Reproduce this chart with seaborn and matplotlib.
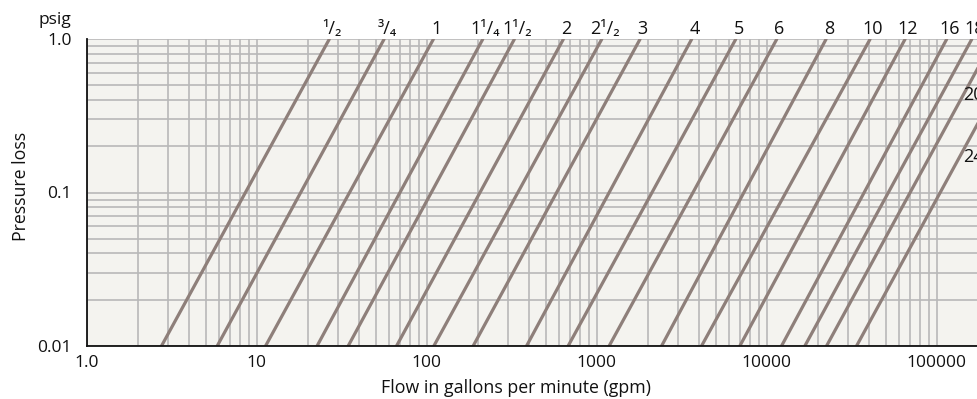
import numpy as np
import pandas as pd
import matplotlib
matplotlib.use("Agg")
import matplotlib.pyplot as plt
import seaborn as sns
from matplotlib.ticker import FixedLocator, NullFormatter, LogLocator

# Pipe sizes (inches) and flow (gpm) where each line crosses 0.01 psig and 1.0 psig
sizes = ["¹/₂", "³/₄", "1", "1¹/₄", "1¹/₂", "2", "2¹/₂", "3", "4", "5", "6",
         "8", "10", "12", "16", "18", "20", "24"]
flow_at_low = [2.76, 5.87, 11.3, 22.7, 34.6, 66.6, 110.4, 188, 387.5, 680.6, 1186,
               2413, 4146, 6965, 12250, 16800, 22540, 33840]
flow_at_high = [26.7, 56.1, 109.4, 213.5, 327.6, 636, 1070, 1797, 3616, 6571, 11450,
                22330, 40520, 65100, 114400, 160700, 216000, 325000]
p_low, p_high = 0.01, 1.0

x_ticks = [1, 10, 100, 1000, 10000, 100000]
x_ticklabels = ["1.0", "10", "100", "1000", "10000", "100000"]
y_ticks = [0.01, 0.1, 1.0]
y_ticklabels = ["0.01", "0.1", "1.0"]

# sizes labelled on right side (lines that leave through the right edge)
right_labels = ["20", "24"]
right_label_p = [0.433, 0.171]
right_label_x = 1.44e5

rows = []
for s, lo, hi in zip(sizes, flow_at_low, flow_at_high):
    rows.append({"size": s, "flow": lo, "pressure": p_low})
    rows.append({"size": s, "flow": hi, "pressure": p_high})
df = pd.DataFrame(rows)

sns.set_theme(style="white")
plt.rcParams["font.family"] = ["Open Sans", "DejaVu Sans"]

W, H = 977, 399
fig = plt.figure(figsize=(W / 100, H / 100), dpi=100)
left = 86.7 / W
bottom = (H - 345.7) / H
top = (H - 39.3) / H
ax = fig.add_axes([left, bottom, 1.0 - left, top - bottom])
ax.set_facecolor("#f4f3ef")
fig.patch.set_facecolor("white")

ax.set_xscale("log")
ax.set_yscale("log")
ax.set_xlim(1, 10 ** ((W - 86.7) / 170))
ax.set_ylim(0.01, 1.0)

ax.xaxis.set_major_locator(FixedLocator(x_ticks))
ax.xaxis.set_minor_locator(LogLocator(base=10, subs=np.arange(2, 10), numticks=20))
ax.yaxis.set_major_locator(FixedLocator(y_ticks))
ax.yaxis.set_minor_locator(LogLocator(base=10, subs=np.arange(2, 10), numticks=20))
ax.xaxis.set_minor_formatter(NullFormatter())
ax.yaxis.set_minor_formatter(NullFormatter())
ax.set_xticklabels(x_ticklabels)
ax.set_yticklabels(y_ticklabels)

ax.grid(True, which="both", color="#b8b8b8", linewidth=1.2)
ax.set_axisbelow(True)

sns.lineplot(data=df, x="flow", y="pressure", units="size", estimator=None,
             sort=False, color="#8e7f7a", linewidth=2.3, ax=ax, legend=False)

ax.tick_params(axis="both", which="both", length=0, labelsize=12.5, colors="#111111")
ax.tick_params(axis="y", pad=11)
ax.tick_params(axis="x", pad=7)

for side in ["top", "right"]:
    ax.spines[side].set_visible(False)
for side in ["left", "bottom"]:
    ax.spines[side].set_color("#111111")
    ax.spines[side].set_linewidth(1.3)

ax.set_xlabel("Flow in gallons per minute (gpm)", fontsize=12.8, color="#111111")
ax.xaxis.set_label_coords((516 - 86.7) / (W - 86.7), -(388 - 345.7) / (345.7 - 39.3))
ax.set_ylabel("Pressure loss", fontsize=12.8, color="#111111")
ax.yaxis.set_label_coords(-(86.7 - 21) / (W - 86.7), (345.7 - 186.7) / (345.7 - 39.3))
ax.yaxis.label.set_verticalalignment("center")
ax.xaxis.label.set_verticalalignment("center")

fig.text(71.7 / W, 1 - 20 / H, "psig", ha="right", va="center", fontsize=12.5, color="#111111")

for s, hi in zip(sizes, flow_at_high):
    if s in right_labels:
        continue
    ax.annotate(s, xy=(hi, p_high), xytext=(2, 3.5), textcoords="offset points",
                ha="center", va="baseline", fontsize=13, color="#111111",
                annotation_clip=False)

for s, p in zip(right_labels, right_label_p):
    ax.text(right_label_x, p, s, ha="left", va="center", fontsize=13, color="#111111")

fig.savefig("out.png", dpi=100)
